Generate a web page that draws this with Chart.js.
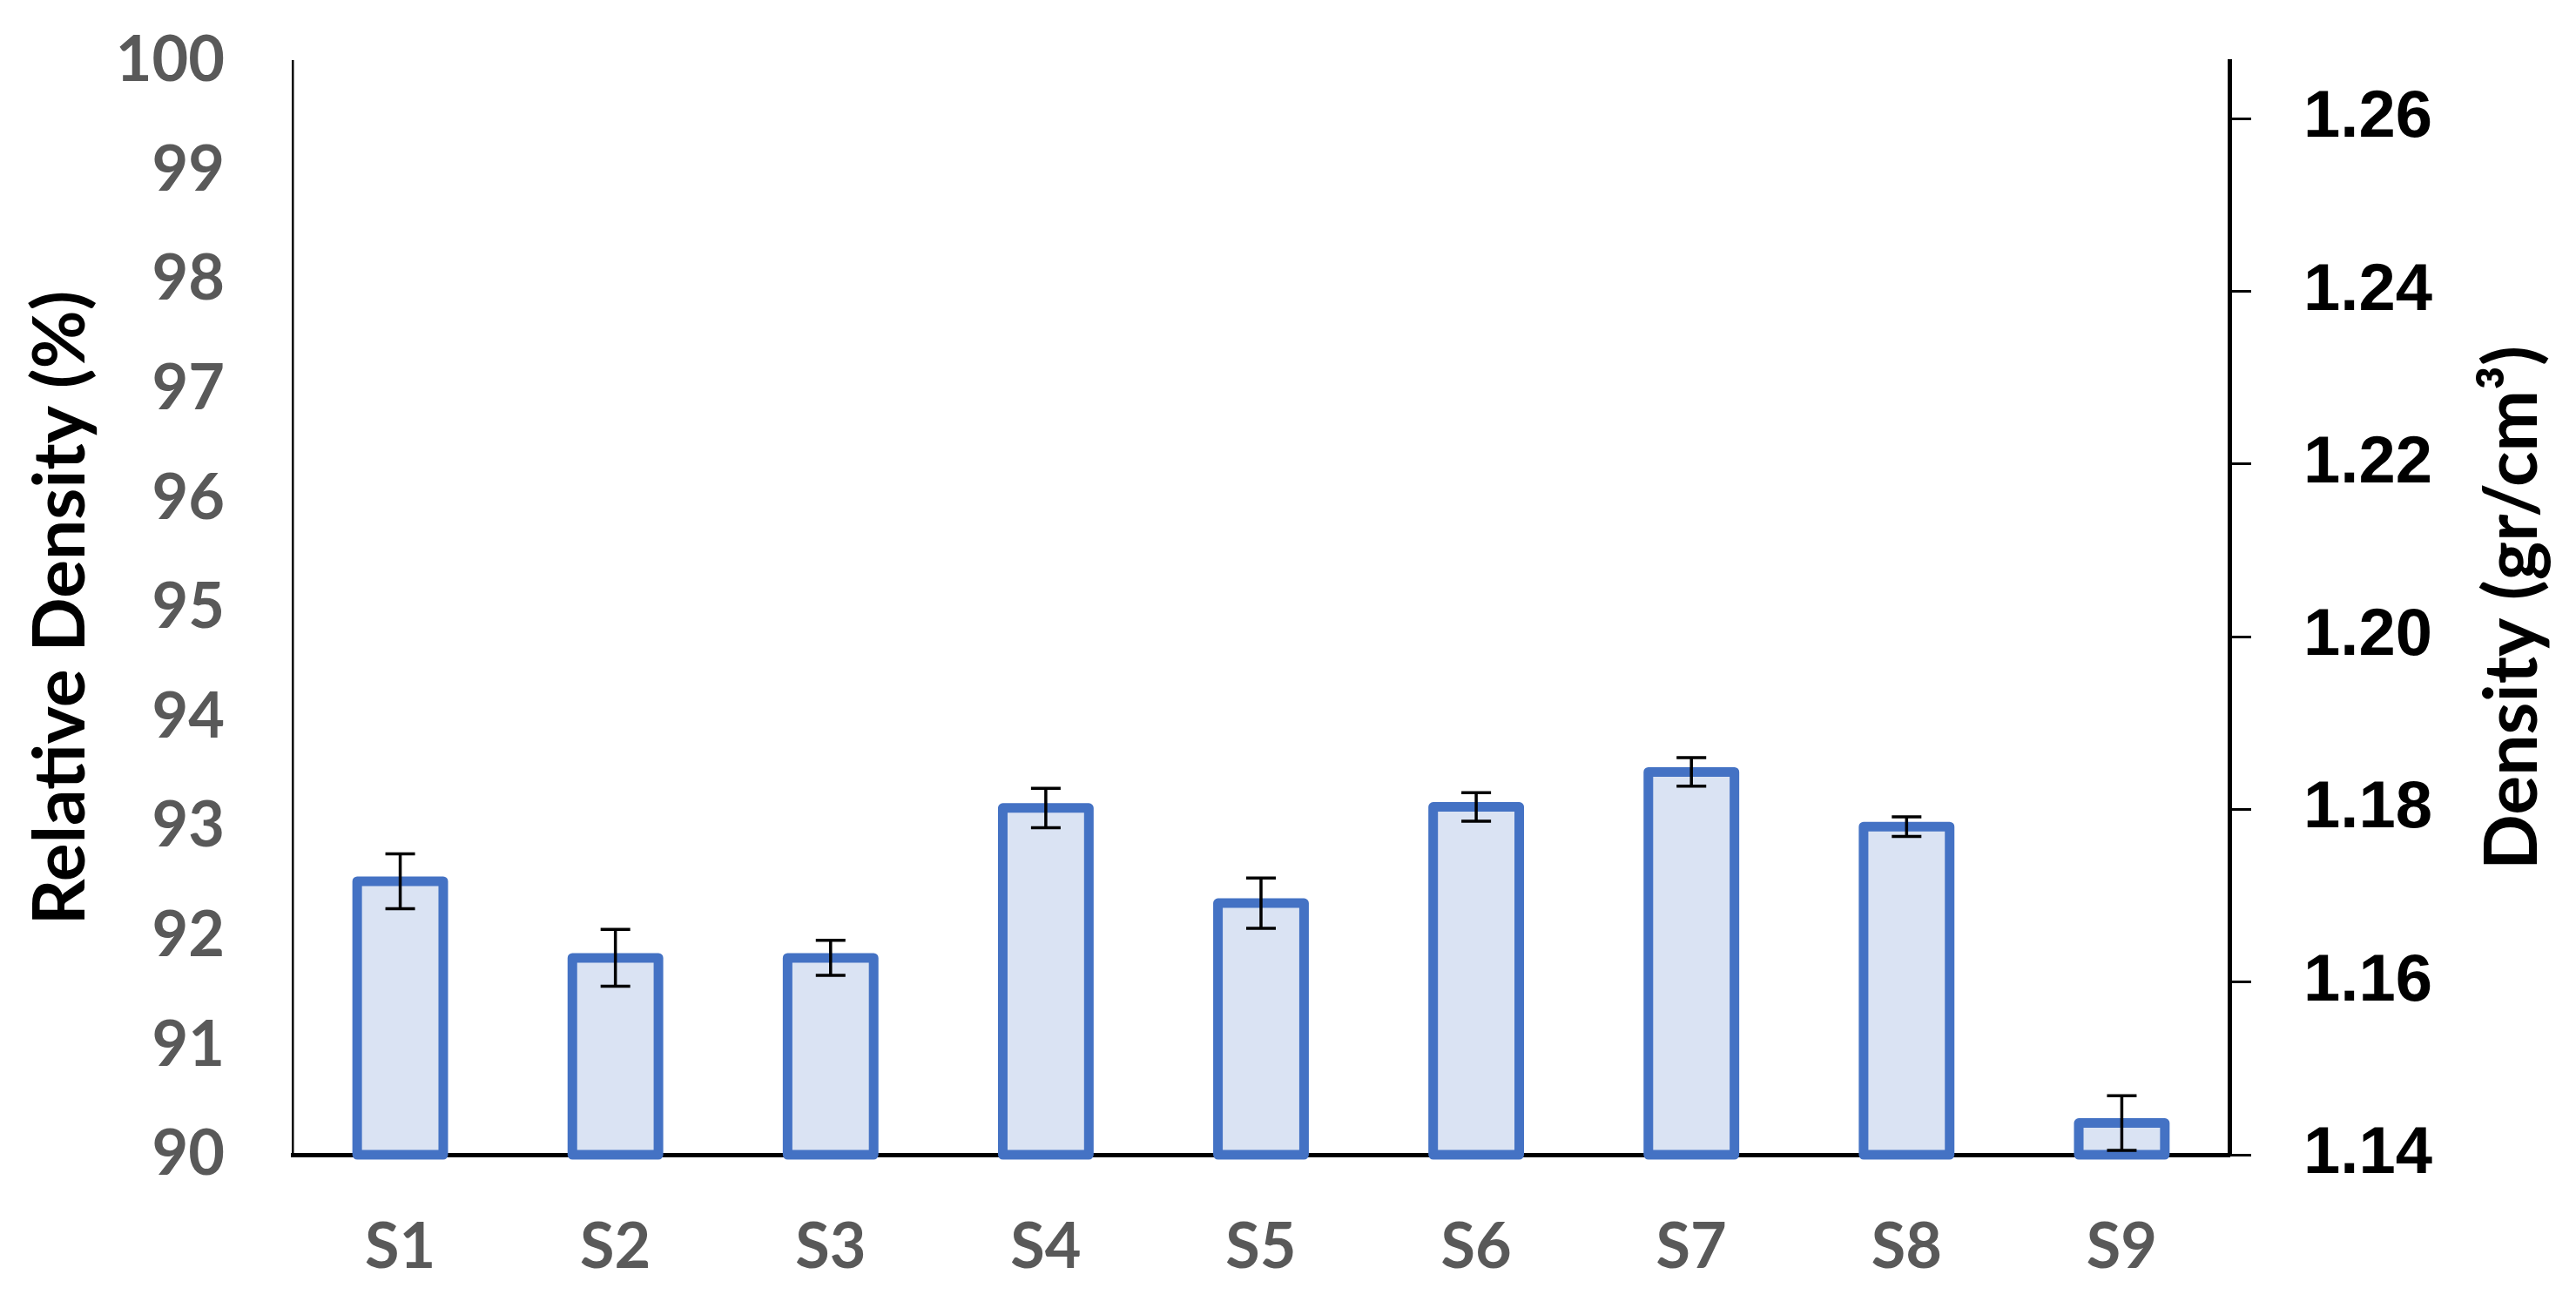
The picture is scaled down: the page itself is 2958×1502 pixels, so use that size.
<!DOCTYPE html>
<html>
<head>
<meta charset="utf-8">
<script src="https://cdn.jsdelivr.net/npm/chart.js@4"></script>
<style>
  html, body { margin: 0; padding: 0; background: #fff; }
  canvas { display: block; }
</style>
</head>
<body>
<canvas id="chart" width="2958" height="1502"></canvas>
<script>
// Samples and relative density (%)
const samples = ['S1', 'S2', 'S3', 'S4', 'S5', 'S6', 'S7', 'S8', 'S9'];
const relDensity = [92.5, 91.8, 91.8, 93.17, 92.3, 93.18, 93.5, 93.0, 90.29];
const relDensityErr = [0.25, 0.26, 0.16, 0.18, 0.23, 0.13, 0.13, 0.09, 0.25];

// Axis ticks
const relTicks = [90, 91, 92, 93, 94, 95, 96, 97, 98, 99, 100];
const densityTicks = [1.14, 1.16, 1.18, 1.20, 1.22, 1.24, 1.26];
const densityMin = 1.14;
const densityMax = 1.2667; // density at 100 % relative density

const BLUE = '#4472C4';
const FILL = '#DAE3F3';
const GREY = '#595959';

// Excel style outline (stroke centred on the bar edge) plus error bars
const barExtras = {
    id: 'barExtras',
    afterDatasetsDraw(chart) {
        const { ctx } = chart;
        const yScale = chart.scales.y;
        const meta = chart.getDatasetMeta(0);
        ctx.save();
        meta.data.forEach((bar, i) => {
            const { x, y, base, width } = bar.getProps(['x', 'y', 'base', 'width'], true);
            ctx.lineWidth = 11;
            ctx.lineJoin = 'round';
            ctx.strokeStyle = BLUE;
            ctx.strokeRect(x - width / 2, y, width, base - y);

            const hi = yScale.getPixelForValue(relDensity[i] + relDensityErr[i]);
            const lo = yScale.getPixelForValue(relDensity[i] - relDensityErr[i]);
            const cap = 17;
            ctx.strokeStyle = '#000';
            ctx.lineWidth = 3.5;
            ctx.lineCap = 'butt';
            ctx.beginPath();
            ctx.moveTo(x, hi);
            ctx.lineTo(x, lo);
            ctx.moveTo(x - cap, hi);
            ctx.lineTo(x + cap, hi);
            ctx.moveTo(x - cap, lo);
            ctx.lineTo(x + cap, lo);
            ctx.stroke();
        });
        ctx.restore();
    }
};

// Right axis title reads bottom to top, which the scale title can't do
const rightTitle = {
    id: 'rightTitle',
    afterDraw(chart) {
        const { ctx, chartArea } = chart;
        ctx.save();
        ctx.translate(2886, (chartArea.top + chartArea.bottom) / 2);
        ctx.rotate(-Math.PI / 2);
        ctx.font = 'bold 84px Lato';
        ctx.fillStyle = '#000';
        ctx.textAlign = 'center';
        ctx.textBaseline = 'middle';
        ctx.fillText('Density (gr/cm³)', 0, 0);
        ctx.restore();
    }
};

// keep tick padding from pushing the chart area down
function fixVertical(width) {
    return scale => {
        scale.width = width;
        scale.paddingTop = 0;
        scale.paddingBottom = 0;
    };
}

new Chart(document.getElementById('chart'), {
    type: 'bar',
    data: {
        labels: samples,
        datasets: [{
            data: relDensity,
            base: 90,
            backgroundColor: FILL,
            borderWidth: 0,
            barPercentage: 0.40,
            categoryPercentage: 1.0,
            yAxisID: 'y'
        }]
    },
    options: {
        responsive: false,
        animation: false,
        devicePixelRatio: 1,
        layout: { padding: { top: 70, left: 0, right: 0, bottom: 0 } },
        plugins: {
            legend: { display: false },
            tooltip: { enabled: false }
        },
        scales: {
            x: {
                z: 1,
                grid: { display: false, drawTicks: false },
                border: { display: true, color: '#000', width: 5 },
                ticks: {
                    color: GREY,
                    padding: 64,
                    font: { family: 'Lato', weight: 'bold', size: 72, lineHeight: 1.2 }
                },
                afterFit(scale) { scale.height = 176; }
            },
            y: {
                position: 'left',
                min: 90,
                max: 100,
                grid: { display: false, drawTicks: false },
                border: { display: true, color: '#000', width: 2.5 },
                afterBuildTicks(scale) { scale.ticks = relTicks.map(v => ({ value: v })); },
                ticks: {
                    color: GREY,
                    padding: 78,
                    font: { family: 'Lato', weight: 'bold', size: 72, lineHeight: 1.2 }
                },
                title: {
                    display: true,
                    text: 'Relative Density (%)',
                    color: '#000',
                    padding: { top: 21, bottom: 0 },
                    font: { family: 'Lato', weight: 'bold', size: 82, lineHeight: 1.2 }
                },
                afterFit: fixVertical(336)
            },
            y2: {
                position: 'right',
                min: densityMin,
                max: densityMax,
                grid: {
                    display: true,
                    drawOnChartArea: false,
                    drawTicks: true,
                    tickLength: 25,
                    color: '#000',
                    lineWidth: 3
                },
                border: { display: true, color: '#000', width: 5 },
                afterBuildTicks(scale) { scale.ticks = densityTicks.map(v => ({ value: v })); },
                ticks: {
                    color: '#000',
                    padding: 60,
                    font: { family: 'Liberation Sans', weight: 'bold', size: 76, lineHeight: 1.2 },
                    callback: v => Number(v).toFixed(2)
                },
                afterFit: fixVertical(398)
            }
        }
    },
    plugins: [barExtras, rightTitle]
});
</script>
</body>
</html>
